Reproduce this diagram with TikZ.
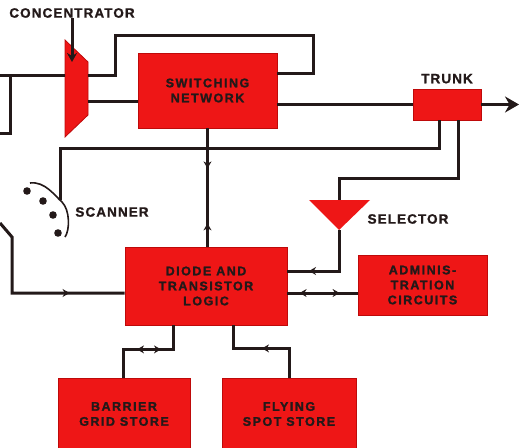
\documentclass[tikz,border=0pt]{standalone}
\usepackage{fontspec}
\setmainfont{Liberation Sans}
\newfontfamily\tagfont[LetterSpace=8, FakeBold=1.2]{Liberation Sans Bold}
\newfontfamily\boxfont[LetterSpace=12, FakeBold=1.6]{Liberation Sans Bold}
\usepackage{tikz}
\usetikzlibrary{arrows.meta,positioning,decorations.markings}
\definecolor{boxred}{RGB}{238,22,22}
\definecolor{edgered}{RGB}{190,10,10}
\definecolor{ink}{RGB}{35,25,25}

\begin{document}
\begin{tikzpicture}[x=1pt, y=-1pt,
  block/.style={draw=edgered, fill=boxred, line width=0.8pt, inner sep=0pt, align=center,
                font=\boxfont\fontsize{12.5}{15}\selectfont, text=ink},
  tag/.style={font=\tagfont\fontsize{13.5}{15}\selectfont, text=ink, inner sep=0pt},
  wire/.style={draw=ink, line width=3pt},
  arr/.style={wire, -{Stealth[length=14pt, width=16pt]}},
  fwd/.style={postaction={decorate, decoration={markings,
              mark=at position #1 with {\arrow{Stealth[length=7pt, width=8pt]}}}}},
  bwd/.style={postaction={decorate, decoration={markings,
              mark=at position #1 with {\arrowreversed{Stealth[length=7pt, width=8pt]}}}}}
]
  \useasboundingbox (0,0) rectangle (519,447);

  % blocks
  \node[block, minimum width=139pt, minimum height=75pt] (sw) at (207.5,90.5) {SWITCHING\\NETWORK};
  \node[block, minimum width=68pt, minimum height=31pt] (trunk) at (447,104.5) {};
  \node[block, minimum width=162pt, minimum height=78pt] (logic) at (206,286) {DIODE AND\\TRANSISTOR\\LOGIC};
  \node[block, minimum width=129pt, minimum height=60pt] (admin) at (422.5,285) {ADMINIS-\\TRATION\\CIRCUITS};
  \node[block, minimum width=132pt, minimum height=72pt] (barrier) at (124,414) {BARRIER\\GRID STORE};
  \node[block, minimum width=134pt, minimum height=72pt] (flying) at (289,414) {FLYING\\SPOT STORE};

  % concentrator and selector
  \filldraw[fill=boxred, draw=edgered, line width=0.8pt] (65,40) -- (88,62) -- (88,115) -- (65,137) -- cycle;
  \coordinate (conc-in) at (65,75);
  \coordinate (conc-top) at (88,75);
  \coordinate (conc-mid) at (88,101);
  \coordinate (conc-hit) at (72,62);
  \coordinate (sel-l) at (309,200);
  \coordinate (sel-r) at (370,200);
  \coordinate (sel-tip) at (339,230);
  \coordinate (sel-top) at (339,200);
  \fill[boxred] (sel-l) -- (sel-r) -- (sel-tip) -- cycle;

  % labels
  \node[tag] (conclbl) at (72,13) {CONCENTRATOR};
  \node[tag, above=5pt of trunk] (trunklbl) {TRUNK};
  \node[tag] (scanlbl) at (112,212) {SCANNER};
  \node[tag] (sellbl) at (408,219) {SELECTOR};

  % free ends
  \coordinate (in1) at (0,75);
  \coordinate (tap) at (10,75);
  \coordinate (in2) at (0,133);
  \coordinate (in3) at (0,223);
  \coordinate (out) at (519,104.5);
  \coordinate (loop) at (313,73);
  \coordinate (scanarm) at (60,200);
  \coordinate (adm-in) at ([yshift=-8pt]admin.west);
  \coordinate (lg-in) at ([yshift=-7pt]logic.west);

  % connectors
  \draw[wire, -{Stealth[length=9pt, width=10pt]}] (conclbl.south) -- (conc-hit);
  \draw[wire] (in1) -- (conc-in);
  \draw[wire] (tap) |- (in2);
  \draw[wire] (conc-top) -| (115,35) -| (loop) -- (loop -| sw.east);
  \draw[wire] (conc-mid) -- (conc-mid -| sw.west);
  \draw[wire] (trunk.west -| sw.east) -- (trunk.west);
  \draw[arr] (trunk.east) -- (out);
  \draw[wire] ([xshift=-8pt]trunk.south) |- (60,148) -- (scanarm);
  \draw[wire] ([xshift=11pt]trunk.south) |- (339,178) -- (sel-top);
  \draw[wire, fwd=71pt] (sel-tip) |- ([yshift=15pt]logic.east);
  \draw[wire, fwd=58pt, bwd=18pt] (adm-in) -- (adm-in -| logic.east);
  \draw[wire, fwd=40pt, bwd=95pt] (sw.south) -- (sw.south |- logic.north);
  \draw[wire, fwd=132pt] (in3) -- (12,237) |- (lg-in);
  \draw[wire, fwd=60pt, bwd=36pt] ([xshift=-33pt]logic.south) -- ++(0,24) -| ([xshift=-1pt]barrier.north);
  \draw[wire, bwd=52pt] ([xshift=27pt]logic.south) -- ++(0,23) -| (flying.north);

  % scanner
  \draw[ink, line width=1.6pt] (30,183) .. controls (45,181) and (55,196) .. (62,202)
        .. controls (70,210) and (70,230) .. (65,237);
  \foreach \p in {(27,191), (43,201), (53,215), (58,233)}
    \fill[ink] \p circle (3.8pt);
\end{tikzpicture}
\end{document}
